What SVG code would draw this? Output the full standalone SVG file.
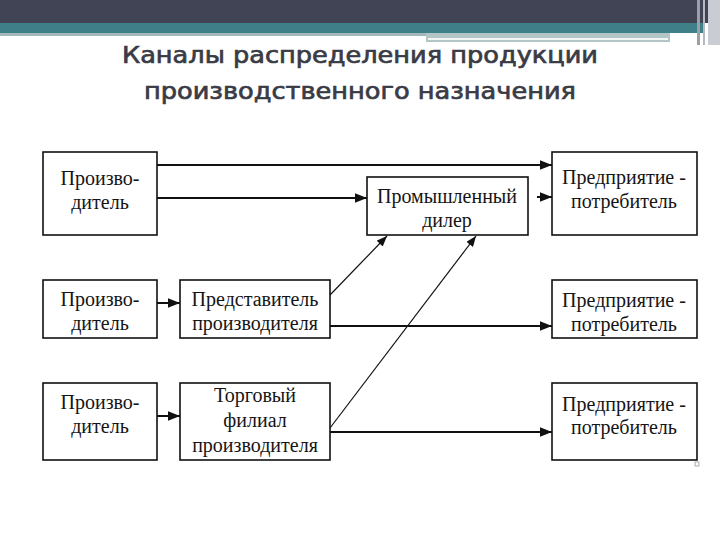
<svg xmlns="http://www.w3.org/2000/svg" width="720" height="540" viewBox="0 0 720 540">
<style>
.box{fill:#fff;stroke:#111;stroke-width:1.6}
.t{font-family:"Liberation Serif","Times New Roman",serif;font-size:20px;fill:#151515;text-anchor:middle}
.title{font-family:"DejaVu Sans",Verdana,sans-serif;font-size:23px;fill:#3a3b45;stroke:#3a3b45;stroke-width:0.7;text-anchor:middle}
.thick{stroke:#111;stroke-width:2;fill:none;marker-end:url(#ah)}
.thin{stroke:#111;stroke-width:1.2;fill:none;marker-end:url(#ah2)}
</style>
<defs>
<marker id="ah" viewBox="0 0 10 8" refX="10" refY="4" markerWidth="6" markerHeight="5" markerUnits="strokeWidth" orient="auto"><path d="M0,0 L10,4 L0,8 z" fill="#111"/></marker>
<marker id="ah2" viewBox="0 0 10 8" refX="10" refY="4" markerWidth="9" markerHeight="7" markerUnits="strokeWidth" orient="auto"><path d="M0,0 L10,4 L0,8 z" fill="#111"/></marker>
</defs>
<rect width="720" height="540" fill="#fff"/>
<g id="header">
<rect x="0" y="0" width="720" height="23" fill="#414454"/>
<rect x="0" y="23" width="705" height="10" fill="#3f7f87"/>
<rect x="0" y="33" width="426" height="3" fill="#a3b7ba"/>
<rect x="426" y="33" width="244" height="9" fill="#b4c5c7"/>
<rect x="428" y="38" width="240" height="2" fill="#f4f6f6"/>
<rect x="697" y="0" width="3" height="45" fill="#9aa0aa"/>
<rect x="703" y="0" width="2" height="45" fill="#b5bac2"/>
<rect x="708" y="0" width="12" height="45" fill="#c9ccd3"/>
</g>
<g id="title">
<text class="title" x="360" y="63" textLength="476" lengthAdjust="spacingAndGlyphs">Каналы распределения продукции</text>
<text class="title" x="360" y="99" textLength="432" lengthAdjust="spacingAndGlyphs">производственного назначения</text>
</g>
<g id="connectors">
<line class="thick" x1="157" y1="165" x2="552" y2="165"/>
<line class="thick" x1="157" y1="198" x2="367" y2="198"/>
<line class="thick" x1="537" y1="197" x2="552" y2="197"/>
<line class="thick" x1="155" y1="303" x2="180" y2="303"/>
<line class="thick" x1="155" y1="416" x2="180" y2="416"/>
<line class="thick" x1="330" y1="326" x2="552" y2="326"/>
<line class="thick" x1="330" y1="432" x2="552" y2="432"/>
<line class="thin" x1="330" y1="295" x2="387" y2="236"/>
<line class="thin" x1="330" y1="428" x2="476" y2="236"/>
</g>
<g id="producer1"><rect class="box" x="43" y="152" width="114" height="83"/><text class="t" x="100" y="185">Произво-</text><text class="t" x="100" y="209">дитель</text></g>
<g id="producer2"><rect class="box" x="43" y="280" width="114" height="58"/><text class="t" x="100" y="306">Произво-</text><text class="t" x="100" y="330">дитель</text></g>
<g id="producer3"><rect class="box" x="43" y="383" width="114" height="77"/><text class="t" x="100" y="409">Произво-</text><text class="t" x="100" y="433">дитель</text></g>
<g id="representative"><rect class="box" x="180" y="280" width="150" height="58"/><text class="t" x="255" y="306">Представитель</text><text class="t" x="255" y="330">производителя</text></g>
<g id="branch"><rect class="box" x="180" y="383" width="150" height="77"/><text class="t" x="255" y="402">Торговый</text><text class="t" x="255" y="427">филиал</text><text class="t" x="255" y="452">производителя</text></g>
<g id="dealer"><rect class="box" x="367" y="177" width="161" height="58"/><text class="t" x="447" y="203">Промышленный</text><text class="t" x="447" y="227">дилер</text></g>
<g id="consumer1"><rect class="box" x="552" y="152" width="145" height="83"/><text class="t" x="624" y="184">Предприятие -</text><text class="t" x="624" y="208">потребитель</text></g>
<g id="consumer2"><rect class="box" x="552" y="280" width="145" height="58"/><text class="t" x="624" y="307">Предприятие -</text><text class="t" x="624" y="331">потребитель</text></g>
<g id="consumer3"><rect class="box" x="552" y="383" width="145" height="77"/><text class="t" x="624" y="411">Предприятие -</text><text class="t" x="624" y="434">потребитель</text></g>
<rect x="695" y="462" width="4" height="4" fill="none" stroke="#999" stroke-width="0.8"/>
</svg>
